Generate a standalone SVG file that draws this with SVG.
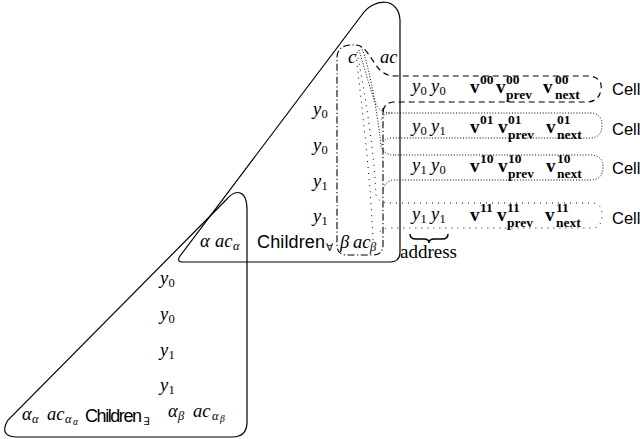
<svg xmlns="http://www.w3.org/2000/svg" width="640" height="439" viewBox="0 0 640 439">
<style>
.ln{fill:none;stroke:#000;stroke-width:1.2}
.dd{fill:none;stroke:#000;stroke-width:1.1;stroke-dasharray:7 2.5 1.2 2.5}
.da{fill:none;stroke:#000;stroke-width:1.2;stroke-dasharray:6 4}
.dt{fill:none;stroke:#000;stroke-width:1;stroke-dasharray:1 1.8}
.ds{fill:none;stroke:#000;stroke-width:1;stroke-dasharray:1 5}
text{fill:#000}
.m{font-family:"Liberation Serif",serif;font-style:italic;font-size:18.5px}
.n{font-family:"Liberation Serif",serif;font-size:12.5px}
.g{font-family:"Liberation Serif",serif;font-style:italic;font-size:12.5px}
.g2{font-family:"Liberation Serif",serif;font-style:italic;font-size:9.5px}
.s{font-family:"Liberation Sans",sans-serif;font-size:18px}
.c{font-family:"Liberation Sans",sans-serif;font-size:16.5px}
.q{font-family:"DejaVu Sans",sans-serif;font-size:10.5px}
.b{font-family:"Liberation Serif",serif;font-weight:bold;font-size:19px}
.bs{font-family:"Liberation Serif",serif;font-weight:bold;font-size:13.5px}
.r{font-family:"Liberation Serif",serif;font-size:19px}
</style>

<g id="node-children-forall">
<path class="ln" d="M183,262 L390,262 Q400,262 400,252 L400,20 C399,-2 375,-4 361,16 L180,256 Q176,262 183,262 Z"/>
<text class="m" x="313" y="115">y</text><text class="n" x="321.5" y="118">0</text>
<text class="m" x="313" y="151">y</text><text class="n" x="321.5" y="154">0</text>
<text class="m" x="313" y="187">y</text><text class="n" x="321.5" y="190">1</text>
<text class="m" x="313" y="222">y</text><text class="n" x="321.5" y="225">1</text>
<text class="m" x="200" y="247">α</text><text class="m" x="215" y="247">ac</text><text class="g" x="233" y="250">α</text>
<text class="s" x="257" y="248" textLength="68">Children</text><text class="q" x="326" y="251">∀</text>
</g>

<g id="node-children-exists">
<path class="ln" d="M18,437 L232,437 Q247,437 247,422 L247,210 C247,190 236,188 226,200 L8,420 Q-2,437 18,437 Z"/>
<text class="m" x="160" y="284">y</text><text class="n" x="168.5" y="287">0</text>
<text class="m" x="160" y="320">y</text><text class="n" x="168.5" y="323">0</text>
<text class="m" x="160" y="356">y</text><text class="n" x="168.5" y="359">1</text>
<text class="m" x="160" y="391">y</text><text class="n" x="168.5" y="394">1</text>
<text class="m" x="22" y="420">α</text><text class="g" x="32" y="423">α</text>
<text class="m" x="47" y="420">ac</text><text class="g" x="65" y="423">α</text><text class="g2" x="73" y="425">α</text>
<text class="s" x="85" y="422" font-size="17" textLength="57">Children</text><text class="q" x="143" y="425">∃</text>
<text class="m" x="168" y="417">α</text><text class="g" x="178" y="420">β</text>
<text class="m" x="193" y="417">ac</text><text class="g" x="212" y="420">α</text><text class="g2" x="220" y="422">β</text>
</g>

<g id="node-beta">
<path class="dd" d="M383,108 L383,245 Q383,255 373,255 L347,255 Q337,255 337,245 L337,58 Q337,46 350,45 L356,45"/>
<text class="m" x="340" y="248">β</text><text class="m" x="353" y="248">ac</text><text class="g" x="370" y="251">β</text>
<text class="m" x="348" y="63">c</text>
<text class="m" x="380" y="63">ac</text>
</g>

<g id="cell-00">
<path class="da" d="M356,45 C366,45 372,62 380,70 C384,74 388,76 396,76 L590,76 Q603,78 601,90 Q599,101 588,102 L393,102 Q384,103 383,112"/>
<text class="m" x="412" y="92">y</text><text class="n" x="420.5" y="95">0</text>
<text class="m" x="431" y="92">y</text><text class="n" x="439.5" y="95">0</text>
<text class="b" x="470" y="93">v</text><text class="bs" x="480" y="84">00</text>
<text class="b" x="496" y="93">v</text><text class="bs" x="506" y="84">00</text><text class="bs" x="506" y="99">prev</text>
<text class="b" x="543" y="93">v</text><text class="bs" x="555" y="84">00</text><text class="bs" x="555" y="99">next</text>
<text class="c" x="612" y="95">Cell</text>
</g>

<g id="cell-01">
<path class="dt" d="M382,145 Q384,138 392,138 L590,138 Q602,138 602,125 Q602,113 590,113 L392,113 Q383,113 381,120"/>
<text class="m" x="412" y="132">y</text><text class="n" x="420.5" y="135">0</text>
<text class="m" x="431" y="132">y</text><text class="n" x="439.5" y="135">1</text>
<text class="b" x="470" y="133">v</text><text class="bs" x="480" y="124">01</text>
<text class="b" x="498" y="133">v</text><text class="bs" x="508" y="124">01</text><text class="bs" x="508" y="139">prev</text>
<text class="b" x="546" y="133">v</text><text class="bs" x="557" y="124">01</text><text class="bs" x="557" y="139">next</text>
<text class="c" x="612" y="135">Cell</text>
</g>

<g id="cell-10">
<path class="dt" d="M395,155 L590,155 Q603,155 603,167 Q603,180 590,180 L395,180 Q385,180 383,190"/>
<text class="m" x="412" y="171">y</text><text class="n" x="420.5" y="174">1</text>
<text class="m" x="431" y="171">y</text><text class="n" x="439.5" y="174">0</text>
<text class="b" x="470" y="172">v</text><text class="bs" x="480" y="163">10</text>
<text class="b" x="498" y="172">v</text><text class="bs" x="508" y="163">10</text><text class="bs" x="508" y="178">prev</text>
<text class="b" x="546" y="172">v</text><text class="bs" x="557" y="163">10</text><text class="bs" x="557" y="178">next</text>
<text class="c" x="612" y="174">Cell</text>
</g>

<g id="cell-11">
<path class="ds" d="M390,203 L592,203 Q602,203 602,215 Q602,228 592,228 L390,228 Q380,228 378,236"/>
<text class="m" x="412" y="220">y</text><text class="n" x="420.5" y="223">1</text>
<text class="m" x="431" y="220">y</text><text class="n" x="439.5" y="223">1</text>
<text class="b" x="470" y="221">v</text><text class="bs" x="480" y="212">11</text>
<text class="b" x="497" y="221">v</text><text class="bs" x="507" y="212">11</text><text class="bs" x="507" y="227">prev</text>
<text class="b" x="545" y="221">v</text><text class="bs" x="556" y="212">11</text><text class="bs" x="556" y="227">next</text>
<text class="c" x="612" y="224">Cell</text>
</g>

<g id="address">
<path fill="none" stroke="#000" stroke-width="1.5" d="M410,234 Q410,239 416,239 L424,239 Q429,239 429,243 Q429,239 434,239 L442,239 Q448,239 448,234"/>
<text class="r" x="400" y="258">address</text>
</g>

<g id="connectors">
<path class="dt" d="M361,47 C370,65 379,125 381,146 Q383,155 395,155"/>
<path class="dt" d="M359,50 C365,70 372,95 376,104 Q380,113 392,113"/>
<path class="ds" d="M357,52 C366,100 374,150 376,195 Q378,203 390,203"/>
<path class="ds" d="M356,54 C362,110 370,170 373,240"/>
</g>
</svg>
